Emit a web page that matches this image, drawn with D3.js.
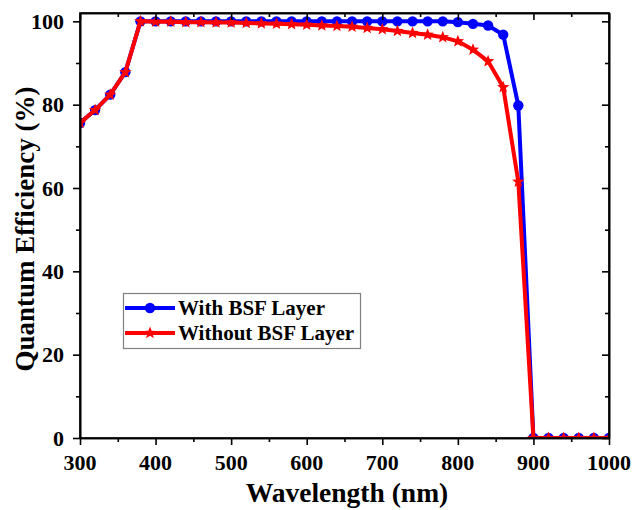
<!DOCTYPE html>
<html>
<head>
<meta charset="utf-8">
<script src="https://cdn.jsdelivr.net/npm/d3@7/dist/d3.min.js"></script>
<style>
  html, body { margin: 0; padding: 0; background: #fff; }
  svg { display: block; }
  text { font-family: "Liberation Serif", "Times New Roman", serif; font-weight: bold; fill: #000; }
</style>
</head>
<body>
<svg id="chart" width="633" height="510"></svg>
<script>
// Wavelength sampling (nm)
const wavelengths = [300, 320, 340, 360, 380, 400, 420, 440, 460, 480, 500, 520, 540, 560, 580,
  600, 620, 640, 660, 680, 700, 720, 740, 760, 780, 800, 820, 840, 860, 880, 900, 920, 940, 960, 980, 1000];

// Quantum efficiency (%) with back-surface-field layer
const qeWithBSF = [75.6, 78.7, 82.4, 87.8, 100, 100, 100, 100, 100, 100, 100, 100, 100, 100, 100,
  100, 100, 100, 100, 100, 100, 100, 100, 100, 100, 99.8, 99.4, 99.0, 96.8, 79.8, 0, 0, 0, 0, 0, 0];

// Quantum efficiency (%) without back-surface-field layer
const qeWithoutBSF = [75.6, 78.7, 82.4, 87.8, 100, 99.9, 99.9, 99.8, 99.8, 99.7, 99.7, 99.6, 99.5, 99.4, 99.3,
  99.2, 99.0, 98.9, 98.7, 98.4, 98.1, 97.7, 97.2, 96.8, 96.2, 95.2, 93.2, 90.4, 84.2, 61.5, 0, 0, 0, 0, 0, 0];

const xTicks = [300, 400, 500, 600, 700, 800, 900, 1000];
const yTicks = [0, 20, 40, 60, 80, 100];
const seriesNames = ["With BSF Layer", "Without BSF Layer"];

const svg = d3.select("#chart");
const m = { left: 80, right: 609, top: 13, bottom: 438 };

const x = d3.scaleLinear().domain([300, 1000]).range([m.left, m.right]);
const y = d3.scaleLinear().domain([0, 102]).range([m.bottom, m.top]);

const minorX = d3.range(300, 1001, 50).filter(v => !xTicks.includes(v));
const minorY = d3.range(0, 101, 10).filter(v => !yTicks.includes(v));

svg.append("defs").append("clipPath").attr("id", "plotClip")
  .append("rect").attr("x", m.left).attr("y", m.top)
  .attr("width", m.right - m.left).attr("height", m.bottom - m.top);

// Star marker path
function starPath(R, r) {
  const pts = [];
  for (let i = 0; i < 10; i++) {
    const a = -Math.PI / 2 + i * Math.PI / 5;
    const rad = i % 2 === 0 ? R : r;
    pts.push([rad * Math.cos(a), rad * Math.sin(a)]);
  }
  return "M" + pts.map(p => p.join(",")).join("L") + "Z";
}
const star = starPath(6.5, 2.8);

const series = [
  { name: seriesNames[0], values: qeWithBSF, color: "#0000ff", marker: "circle" },
  { name: seriesNames[1], values: qeWithoutBSF, color: "#ff0000", marker: "star" }
];

const plot = svg.append("g").attr("clip-path", "url(#plotClip)");
const line = d3.line().x((d, i) => x(wavelengths[i])).y(d => y(d));

series.forEach(s => {
  const g = plot.append("g");
  g.append("path").datum(s.values)
    .attr("d", line).attr("fill", "none")
    .attr("stroke", s.color).attr("stroke-width", 4)
    .attr("stroke-linejoin", "round");
  if (s.marker === "circle") {
    g.selectAll("circle").data(s.values).join("circle")
      .attr("cx", (d, i) => x(wavelengths[i])).attr("cy", d => y(d))
      .attr("r", 5.2).attr("fill", s.color);
  } else {
    g.selectAll("path.mk").data(s.values).join("path").attr("class", "mk")
      .attr("transform", (d, i) => `translate(${x(wavelengths[i])},${y(d)})`)
      .attr("d", star).attr("fill", s.color);
  }
});

// Axes: bottom/left ticks outward, top/right ticks inward
const axisG = svg.append("g");
function addAxis(axis, transform, major) {
  const g = axisG.append("g").attr("transform", transform);
  g.call(axis.tickValues(major).tickSizeOuter(0));
  g.select(".domain").attr("stroke-width", 1.6);
  g.selectAll(".tick line").attr("stroke-width", 1.6);
  g.selectAll("text").remove();
  return g;
}
// bottom
addAxis(d3.axisBottom(x).tickSize(7), `translate(0,${m.bottom})`, xTicks);
addAxis(d3.axisBottom(x).tickSize(4), `translate(0,${m.bottom})`, minorX);
// top
addAxis(d3.axisBottom(x).tickSize(7), `translate(0,${m.top})`, xTicks);
addAxis(d3.axisBottom(x).tickSize(4), `translate(0,${m.top})`, minorX);
// left
addAxis(d3.axisLeft(y).tickSize(7), `translate(${m.left},0)`, yTicks);
addAxis(d3.axisLeft(y).tickSize(4), `translate(${m.left},0)`, minorY);
// right
addAxis(d3.axisLeft(y).tickSize(7), `translate(${m.right},0)`, yTicks);
addAxis(d3.axisLeft(y).tickSize(4), `translate(${m.right},0)`, minorY);
// frame
axisG.append("rect").attr("x", m.left).attr("y", m.top)
  .attr("width", m.right - m.left).attr("height", m.bottom - m.top)
  .attr("fill", "none").attr("stroke", "#000").attr("stroke-width", 1.6);

// Tick labels
svg.append("g").selectAll("text").data(xTicks).join("text")
  .attr("x", d => x(d)).attr("y", 470)
  .attr("text-anchor", "middle").attr("font-size", 22).text(d => d);
svg.append("g").selectAll("text").data(yTicks).join("text")
  .attr("x", 64).attr("y", d => y(d)).attr("dy", "0.35em")
  .attr("text-anchor", "end").attr("font-size", 22).text(d => d);

// Axis titles
svg.append("text").attr("x", 347).attr("y", 502)
  .attr("text-anchor", "middle").attr("font-size", 27.5).text("Wavelength (nm)");
svg.append("text").attr("transform", "translate(34,229) rotate(-90)")
  .attr("text-anchor", "middle").attr("font-size", 27).text("Quantum Efficiency (%)");

// Legend
const lg = svg.append("g");
lg.append("rect").attr("x", 123.5).attr("y", 293.5).attr("width", 237).attr("height", 55)
  .attr("fill", "#fff").attr("stroke", "#808080").attr("stroke-width", 1.2);
series.forEach((s, i) => {
  const ly = 308 + i * 25;
  lg.append("line").attr("x1", 125).attr("x2", 175).attr("y1", ly).attr("y2", ly)
    .attr("stroke", s.color).attr("stroke-width", 4);
  if (s.marker === "circle") {
    lg.append("circle").attr("cx", 150).attr("cy", ly).attr("r", 5.2).attr("fill", s.color);
  } else {
    lg.append("path").attr("transform", `translate(150,${ly})`).attr("d", star).attr("fill", s.color);
  }
  lg.append("text").attr("x", 178).attr("y", ly).attr("dy", "0.35em")
    .attr("font-size", 21).text(s.name);
});
</script>
</body>
</html>
